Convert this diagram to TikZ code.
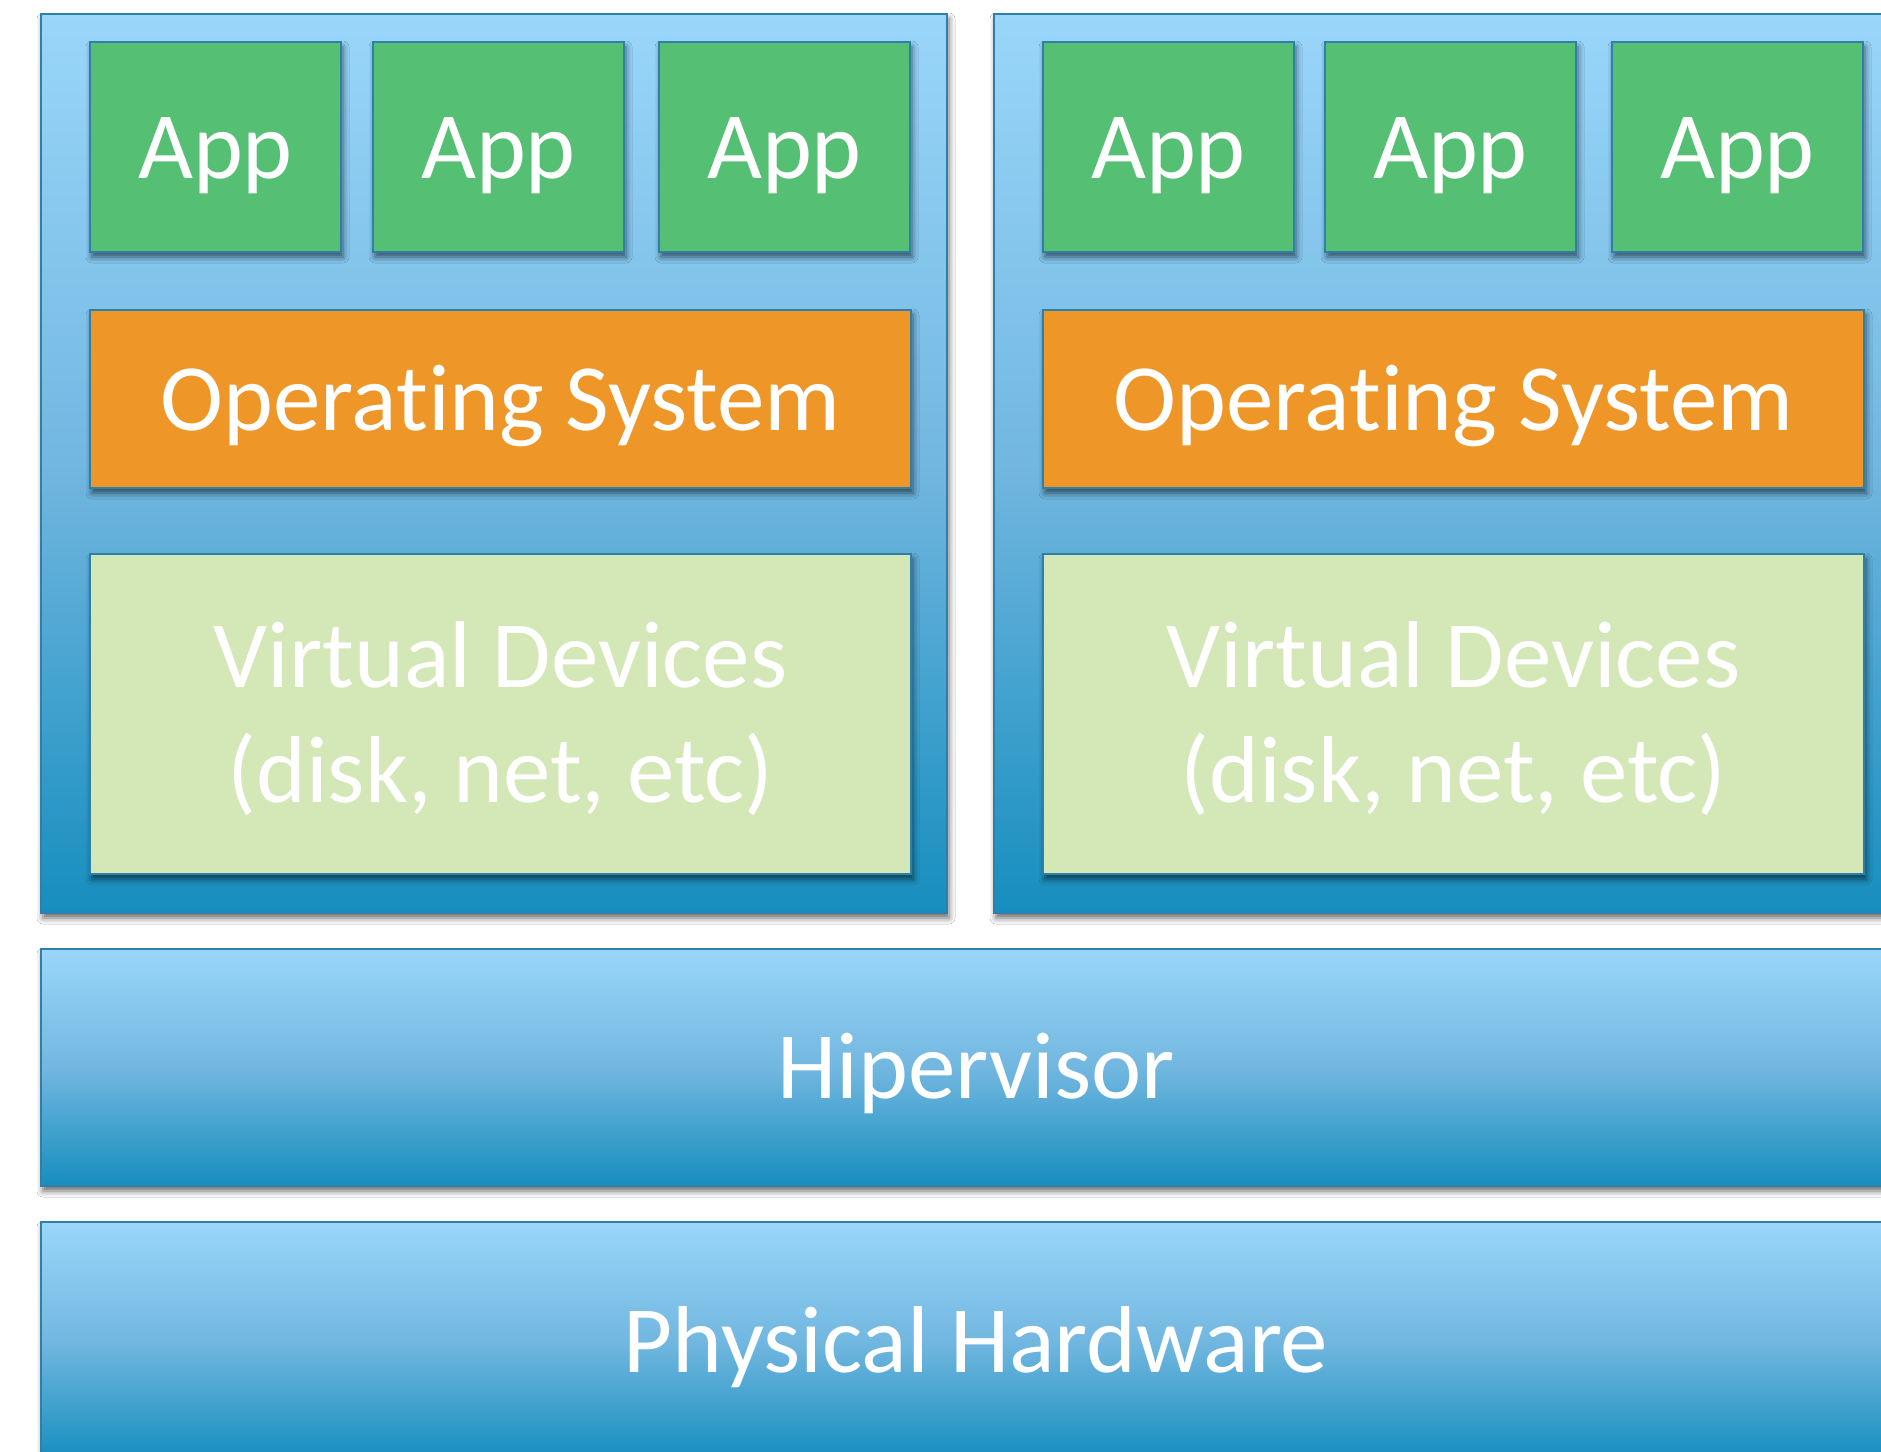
\documentclass[tikz,border=0pt]{standalone}
\usepackage{fontspec}
\setmainfont[Ligatures=NoCommon]{Carlito}
\usetikzlibrary{shadows.blur}

\definecolor{edgeblue}{HTML}{2E80AA}
\definecolor{skytop}{HTML}{9AD6FA}
\definecolor{skymid}{HTML}{72B7E0}
\definecolor{skybot}{HTML}{168EBE}
\definecolor{appgreen}{HTML}{55BF73}
\definecolor{osorange}{HTML}{EE9628}
\definecolor{devgreen}{HTML}{D3E7B7}

\begin{document}
\begin{tikzpicture}[x=0.5pt, y=-0.5pt,
  box/.style={rectangle, draw=edgeblue, line width=1pt, inner sep=0pt,
    outer sep=0pt, anchor=north west, text=white,
    font=\fontsize{47.5}{57.5}\selectfont, text height=31pt, text depth=0pt,
    blur shadow={shadow xshift=1pt, shadow yshift=-2.5pt,
      shadow blur radius=3pt, shadow opacity=60}},
  layer/.style={box, top color=skytop, bottom color=skybot, middle color=skymid},
  vm/.style={layer, minimum width=453pt, minimum height=449.5pt},
  band/.style={layer, minimum width=935pt, minimum height=118.5pt},
  app/.style={box, fill=appgreen, minimum width=125.5pt, minimum height=105pt},
  os/.style={box, fill=osorange, minimum width=410.5pt, minimum height=89pt},
  devices/.style={box, fill=devgreen, minimum width=410.5pt, minimum height=160pt,
    text depth=57.5pt}
]
\useasboundingbox (0,0) rectangle (1881,1452);
\fill[white] (0,0) rectangle (1881,1452);
\clip (0,0) rectangle (1881,1452);

% two guest machines
\node[vm] (vm1) at (41,14) {};
\node[vm] (vm2) at (994,14) {};

% applications
\node[app] (app11) at (90,42) {App};
\node[app] (app12) at (373,42) {App};
\node[app] (app13) at (659,42) {App};
\node[app] (app21) at (1043,42) {App};
\node[app] (app22) at (1325,42) {App};
\node[app] (app23) at (1612,42) {App};

% guest operating systems
\node[os] (os1) at (90,310) {Operating System};
\node[os] (os2) at (1043,310) {Operating System};

% virtual devices
\node[devices] (dev1) at (90,554)
  {\begin{tabular}[t]{@{}c@{}}Virtual Devices\\(disk, net, etc)\end{tabular}};
\node[devices] (dev2) at (1043,554)
  {\begin{tabular}[t]{@{}c@{}}Virtual Devices\\(disk, net, etc)\end{tabular}};

% shared layers
\node[band] (hyp) at (41,949) {Hipervisor};
\node[band, minimum height=119pt] (hw) at (41,1222) {Physical Hardware};
\end{tikzpicture}
\end{document}
